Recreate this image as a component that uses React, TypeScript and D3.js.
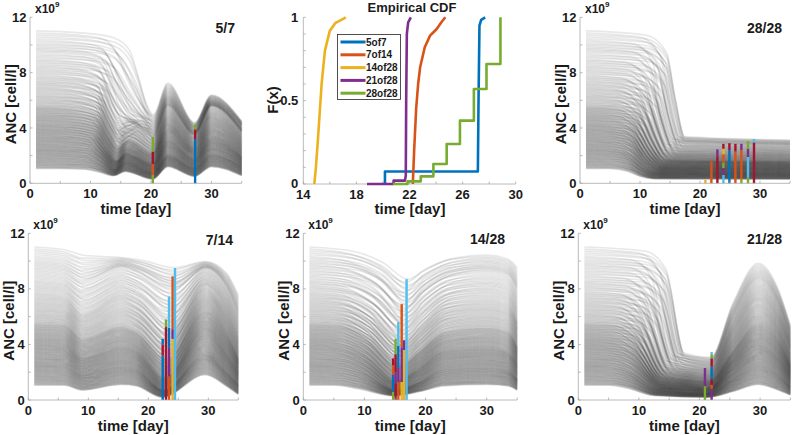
import React from 'react';
import * as d3 from 'd3';

type Pt = [number, number];
type Seg = [number, number, string];
interface Bar { day: number; segs: Seg[] }

const BLUE = '#0072BD', ORANGE = '#D95319', YELLOW = '#EDB120', PURPLE = '#7E2F8E', GREEN = '#77AC30', CYAN = '#4DBEEE', RED = '#A2142F';
const FONT = '"Liberation Sans", Arial, Helvetica, sans-serif';
const AXIS = '#a8a8a8';

// ---------- trajectory band data (representative trajectories, top -> bottom) ----------
// relative density of simulated trajectories at each representative's start level
const startDensity = [0.5, 1.0, 1.6, 2.4, 3.1, 3.2, 2.8];
const trajectoryCount = 240;
// per-trajectory timing offsets (representative-index units)
const timingOffsets = [0, 0.85, -0.7, 0.4, -1.1, 1.25, -0.3, 0.7, -0.85, 0.25, -0.55, 1.0, -1.25, 0.15];

const curves5of7: Pt[][] = [
  [[1, 11.1], [10, 10.9], [14, 10.6], [16.5, 9.8], [18, 7.8], [19.2, 5.9], [20.4, 5.0], [22.8, 7.3], [27.2, 4.4], [30, 6.4], [35, 4.5]],
  [[1, 9.5], [9, 9.35], [12.5, 8.9], [14.3, 7.4], [16, 6.3], [18.3, 5.0], [20.4, 4.2], [22.8, 6.4], [27.2, 4.0], [30, 6.0], [35, 4.2]],
  [[1, 7.5], [8, 7.35], [11.5, 6.8], [13.2, 5.0], [14.6, 4.0], [16.2, 4.4], [20.4, 3.3], [22.8, 5.6], [27.2, 3.5], [30, 5.6], [35, 3.7]],
  [[1, 5.5], [7, 5.4], [11, 5.0], [12.8, 3.6], [14.5, 2.6], [16, 3.1], [20.3, 2.2], [22.8, 4.3], [27.2, 2.6], [30, 4.4], [35, 2.8]],
  [[1, 4.0], [6, 3.92], [10.5, 3.6], [12.5, 2.5], [14.3, 1.6], [15.9, 2.2], [20.3, 1.4], [22.8, 3.1], [27.2, 1.8], [30, 3.2], [35, 1.9]],
  [[1, 2.5], [6, 2.45], [10, 2.3], [12, 1.7], [14, 1.0], [15.8, 1.5], [20.3, 0.8], [22.8, 2.0], [27.2, 1.1], [30, 2.1], [35, 1.2]],
  [[1, 1.05], [5, 1.05], [9, 1.0], [11.5, 0.8], [13.8, 0.55], [15.7, 0.85], [20.3, 0.3], [22.8, 1.2], [27.2, 0.5], [30, 1.2], [35, 0.55]],
];

const curves28of28: Pt[][] = [
  [[1, 11.1], [11, 10.8], [14.5, 9.5], [15.8, 6.5], [17.5, 3.4], [35, 3.15]],
  [[1, 9.5], [10, 9.3], [13.3, 8.2], [14.6, 5.5], [16.5, 3.0], [35, 2.8]],
  [[1, 7.5], [8.5, 7.3], [11.5, 6.3], [13, 4.2], [15, 2.3], [35, 2.2]],
  [[1, 5.5], [7, 5.4], [10, 4.6], [11.8, 3.0], [14, 1.7], [35, 1.6]],
  [[1, 4.0], [6, 3.9], [9, 3.3], [11, 2.0], [13.5, 1.2], [35, 1.15]],
  [[1, 2.5], [5.5, 2.45], [8.5, 2.0], [10.5, 1.2], [13, 0.75], [35, 0.7]],
  [[1, 1.05], [5, 1.05], [8, 0.85], [10, 0.5], [12.5, 0.32], [35, 0.3]],
];

const curves7of14: Pt[][] = [
  [[1, 11.1], [6, 10.9], [9.5, 10.5], [15.5, 10.3], [19, 10.1], [24.4, 9.6], [29.5, 10.0], [33, 9.2], [35, 7.6]],
  [[1, 9.5], [6, 9.3], [9, 8.6], [15.5, 9.6], [18.5, 9.2], [24, 8.0], [29.5, 9.5], [33, 8.2], [35, 6.2]],
  [[1, 7.5], [6, 7.3], [9, 6.2], [15.5, 7.5], [18, 7.0], [23.4, 5.0], [29.5, 8.2], [33, 6.5], [35, 4.5]],
  [[1, 5.5], [6, 5.4], [9, 4.4], [15.5, 5.3], [18, 4.9], [23, 3.0], [29.5, 6.6], [33, 4.8], [35, 3.0]],
  [[1, 4.0], [6, 3.9], [9, 3.0], [15.5, 3.8], [18, 3.5], [22.8, 1.6], [29.5, 5.0], [33, 3.3], [35, 2.0]],
  [[1, 2.5], [6, 2.45], [9, 1.8], [15.5, 2.4], [18, 2.2], [22.5, 0.7], [29.5, 3.3], [33, 2.0], [35, 1.1]],
  [[1, 1.05], [6, 1.05], [9, 0.7], [15.5, 1.1], [18, 1.0], [22.3, 0.2], [29.5, 1.8], [33, 1.0], [35, 0.4]],
];

const curves14of28: Pt[][] = [
  [[1, 11.1], [8, 10.8], [13, 10.0], [17.2, 8.8], [20, 9.5], [25, 10.3], [30, 10.5], [33.5, 10.2], [35, 9.6]],
  [[1, 9.5], [7, 9.3], [12, 8.4], [16.8, 6.6], [19.5, 7.8], [24, 9.0], [30, 9.3], [33.5, 9.0], [35, 8.0]],
  [[1, 7.5], [6, 7.3], [11, 6.2], [16.2, 4.2], [19, 5.3], [23.5, 6.9], [30, 7.2], [33.5, 6.9], [35, 5.6]],
  [[1, 5.5], [6, 5.4], [10.5, 4.5], [15.7, 2.5], [19, 3.5], [23, 4.9], [30, 5.2], [33.5, 4.9], [35, 3.8]],
  [[1, 4.0], [6, 3.9], [10, 3.2], [15.3, 1.4], [19, 2.3], [23, 3.5], [30, 3.7], [33.5, 3.4], [35, 2.6]],
  [[1, 2.5], [5.5, 2.45], [9.5, 2.0], [15, 0.7], [19, 1.3], [23, 2.2], [30, 2.35], [33.5, 2.1], [35, 1.5]],
  [[1, 1.05], [5, 1.05], [9, 0.8], [14.8, 0.3], [19, 0.6], [23, 1.0], [30, 1.1], [33.5, 1.0], [35, 0.7]],
];

const curves21of28: Pt[][] = [
  [[1, 11.1], [11, 10.8], [14.5, 9.5], [17.5, 3.4], [21.9, 3.1], [25.5, 7.0], [29.7, 9.9], [33, 8.0], [35, 5.4]],
  [[1, 9.5], [10, 9.3], [13.3, 8.2], [16.5, 3.0], [21.8, 2.6], [25.5, 6.0], [29.7, 8.7], [33, 7.0], [35, 4.6]],
  [[1, 7.5], [8.5, 7.3], [11.5, 6.3], [15, 2.3], [21.7, 2.0], [25.5, 4.8], [29.7, 7.2], [33, 5.7], [35, 3.7]],
  [[1, 5.5], [7, 5.4], [10, 4.6], [14, 1.7], [21.6, 1.4], [25.5, 3.5], [29.7, 5.5], [33, 4.3], [35, 2.6]],
  [[1, 4.0], [6, 3.9], [9, 3.3], [13.5, 1.2], [21.5, 0.9], [25.5, 2.5], [29.7, 4.0], [33, 3.0], [35, 1.8]],
  [[1, 2.5], [5.5, 2.45], [8.5, 2.0], [13, 0.75], [21.4, 0.5], [25.5, 1.5], [29.7, 2.5], [33, 1.8], [35, 1.0]],
  [[1, 1.05], [5, 1.05], [8, 0.85], [12.5, 0.32], [21.3, 0.2], [25.5, 0.6], [29.7, 1.1], [33, 0.7], [35, 0.35]],
];

// ---------- coloured bars (stacked segments: [from, to, colour]) ----------
const bars5of7: Bar[] = [
  { day: 20.3, segs: [[0, 0.6, GREEN], [0.6, 1.4, ORANGE], [1.4, 2.3, RED], [2.3, 3.35, GREEN]] },
  { day: 27.3, segs: [[0, 3.2, BLUE], [3.2, 3.9, RED], [3.9, 4.25, GREEN]] },
];
const bars28of28: Bar[] = [
  { day: 20.9, segs: [[0, 0.25, YELLOW]] },
  { day: 21.9, segs: [[0, 1.6, ORANGE]] },
  { day: 22.9, segs: [[0, 1.9, RED], [1.9, 2.45, PURPLE]] },
  { day: 23.9, segs: [[0, 0.6, CYAN], [0.6, 1.1, PURPLE], [1.1, 1.5, GREEN], [1.5, 2.1, ORANGE], [2.1, 2.5, YELLOW], [2.5, 2.85, RED]] },
  { day: 24.9, segs: [[0, 2.4, BLUE], [2.4, 2.9, RED]] },
  { day: 25.9, segs: [[0, 2.3, ORANGE], [2.3, 2.85, RED]] },
  { day: 26.9, segs: [[0, 0.3, GREEN], [0.3, 2.4, ORANGE], [2.4, 2.85, PURPLE]] },
  { day: 28.0, segs: [[0, 0.4, GREEN], [0.4, 1.9, CYAN], [1.9, 2.5, PURPLE], [2.5, 3.05, GREEN]] },
  { day: 29.0, segs: [[0, 2.95, RED], [2.95, 3.2, CYAN]] },
];
const bars7of14: Bar[] = [
  { day: 22.4, segs: [[0, 3.2, BLUE], [3.2, 4.0, RED], [4.0, 4.4, BLUE]] },
  { day: 22.95, segs: [[0, 5.25, RED], [5.25, 5.8, GREEN]] },
  { day: 23.45, segs: [[0, 1.7, ORANGE], [1.7, 3.8, PURPLE], [3.8, 5.2, BLUE], [5.2, 7.45, CYAN]] },
  { day: 24.05, segs: [[0, 4.4, YELLOW], [4.4, 5.1, PURPLE], [5.1, 8.9, ORANGE]] },
  { day: 24.45, segs: [[0, 9.5, CYAN]] },
];
const bars14of28: Bar[] = [
  { day: 14.7, segs: [[0, 0.6, GREEN], [0.6, 1.8, BLUE], [1.8, 2.5, ORANGE], [2.5, 3.0, RED]] },
  { day: 15.1, segs: [[0, 1.2, RED], [1.2, 2.0, PURPLE], [2.0, 3.3, RED], [3.3, 4.4, GREEN]] },
  { day: 15.55, segs: [[0, 1.3, ORANGE], [1.3, 2.3, PURPLE], [2.3, 3.9, BLUE], [3.9, 5.6, CYAN]] },
  { day: 16.1, segs: [[0, 1.3, YELLOW], [1.3, 3.8, PURPLE], [3.8, 6.9, ORANGE]] },
  { day: 16.5, segs: [[0, 3.6, YELLOW], [3.6, 4.3, PURPLE]] },
  { day: 16.9, segs: [[0, 8.7, CYAN]] },
];
const bars21of28: Bar[] = [
  { day: 20.9, segs: [[0, 1.0, GREEN], [1.0, 2.3, PURPLE]] },
  { day: 22.0, segs: [[0, 0.8, PURPLE], [0.8, 1.1, ORANGE], [1.1, 1.5, RED], [1.5, 2.4, BLUE], [2.4, 3.0, RED], [3.0, 3.3, GREEN], [3.3, 3.45, CYAN]] },
];

// ---------- empirical CDF data ----------
const cdf5of7: Pt[] = [[20.15, 0], [20.15, 0.075], [27.15, 0.075], [27.2, 0.5], [27.27, 0.95], [27.4, 0.985], [27.7, 1.0]];
const cdf7of14: Pt[] = [[22.25, 0], [22.35, 0.2], [22.5, 0.45], [22.65, 0.6], [22.8, 0.7], [23.15, 0.82], [23.55, 0.89], [24.05, 0.93], [24.4, 0.97], [24.7, 1.0]];
const cdf14of28: Pt[] = [[14.83, 0], [14.95, 0.1], [15.13, 0.3], [15.38, 0.6], [15.63, 0.8], [16.0, 0.92], [16.4, 0.965], [17.0, 0.99], [17.2, 1.0]];
const cdf21of28: Pt[] = [[18.8, 0], [20.8, 0], [20.8, 0.02], [21.65, 0.02], [21.72, 0.05], [21.75, 0.5], [21.8, 0.9], [21.9, 0.97], [22.1, 1.0]];
const cdf28of28: Pt[] = [[20.75, 0], [21.85, 0], [21.85, 0.016], [22.85, 0.016], [22.85, 0.046], [23.8, 0.046], [23.8, 0.12], [24.8, 0.12], [24.8, 0.24], [25.8, 0.24], [25.8, 0.38], [26.85, 0.38], [26.85, 0.57], [27.8, 0.57], [27.8, 0.72], [28.85, 0.72], [28.85, 1.0]];
const cdfNames = ['5of7', '7of14', '14of28', '21of28', '28of28'];
const cdfColors = [BLUE, ORANGE, YELLOW, PURPLE, GREEN];
const cdfSeries = [cdf5of7, cdf7of14, cdf14of28, cdf21of28, cdf28of28];

// ---------- ticks ----------
const ancTickMarks = [0, 2, 4, 6, 8, 10, 12];
const ancTickLabels = [0, 4, 8, 12];
const dayTickMarks = [0, 5, 10, 15, 20, 25, 30, 35];
const dayTickLabels = [0, 10, 20, 30];
const cdfXTickMarks = [14, 16, 18, 20, 22, 24, 26, 28, 30];
const cdfXTickLabels = [14, 18, 22, 26, 30];
const cdfYTickMarks = [0, 0.1, 0.2, 0.3, 0.4, 0.5, 0.6, 0.7, 0.8, 0.9, 1];
const cdfYTickLabels = [0, 0.5, 1];

function blend(reps: Pt[][], s: number, sT: number): Pt[] {
  const last = reps.length - 2;
  const i = Math.min(Math.floor(s), last), f = s - i;
  const j = Math.min(Math.floor(sT), last), g = sT - j;
  return reps[0].map((_, k) => [
    reps[j][k][0] * (1 - g) + reps[j + 1][k][0] * g,
    reps[i][k][1] * (1 - f) + reps[i + 1][k][1] * f,
  ] as Pt);
}

// positions (in representative-index units) distributed by the start density
function bandPositions(): number[] {
  const d = startDensity;
  const cum = [0];
  for (let i = 0; i < d.length - 1; i++) cum.push(cum[i] + (d[i] + d[i + 1]) / 2);
  const total = cum[cum.length - 1];
  const out: number[] = [];
  for (let k = 0; k < trajectoryCount; k++) {
    const target = ((k + 0.5) / trajectoryCount) * total;
    let i = 0;
    while (i < d.length - 2 && cum[i + 1] < target) i++;
    const r = target - cum[i];
    const a = (d[i + 1] - d[i]) / 2, b = d[i];
    const f = Math.abs(a) < 1e-9 ? r / b : (-b + Math.sqrt(b * b + 4 * a * r)) / (2 * a);
    out.push(i + Math.max(0, Math.min(1, f)));
  }
  return out;
}

function buildFamily(reps: Pt[][]): Pt[][] {
  const last = reps.length - 1;
  return bandPositions().map((s, n) => {
    const sT = Math.max(0, Math.min(last, s + timingOffsets[n % timingOffsets.length]));
    return blend(reps, s, sT);
  });
}

interface PanelCfg {
  x0: number; x1: number; yt: number; yb: number;
  curves: Pt[][]; bars: Bar[]; title: string; titleX: number; titleY: number;
}

const panels: PanelCfg[] = [
  { x0: 30, x1: 241.7, yt: 17.3, yb: 183.3, curves: curves5of7, bars: bars5of7, title: '5/7', titleX: 235, titleY: 33 },
  { x0: 580, x1: 790, yt: 17.3, yb: 183.3, curves: curves28of28, bars: bars28of28, title: '28/28', titleX: 782, titleY: 32.5 },
  { x0: 28.3, x1: 238.3, yt: 233.3, yb: 400, curves: curves7of14, bars: bars7of14, title: '7/14', titleX: 233, titleY: 244.5 },
  { x0: 303.3, x1: 517.2, yt: 233.3, yb: 400, curves: curves14of28, bars: bars14of28, title: '14/28', titleX: 505, titleY: 243.5 },
  { x0: 578.3, x1: 790.4, yt: 233.3, yb: 400, curves: curves21of28, bars: bars21of28, title: '21/28', titleX: 782, titleY: 243.5 },
];

function TrajPanel({ cfg }: { cfg: PanelCfg }) {
  const xs = d3.scaleLinear().domain([0, 35]).range([cfg.x0, cfg.x1]);
  const ys = d3.scaleLinear().domain([0, 12]).range([cfg.yb, cfg.yt]);
  const line = d3.line<Pt>().x(d => xs(d[0])).y(d => ys(d[1])).curve(d3.curveMonotoneX);
  const fam = buildFamily(cfg.curves);
  const bw = 2.4;
  return (
    <g>
      <g fill="none" stroke="#404040" strokeOpacity={0.12} strokeWidth={1.6}>
        {fam.map((p, i) => <path key={i} d={line(p) || ''} />)}
      </g>
      {cfg.bars.map((b, i) => (
        <g key={i}>
          {b.segs.map((s, k) => (
            <rect key={k} x={xs(b.day) - bw / 2} width={bw} y={ys(s[1])} height={ys(s[0]) - ys(s[1])} fill={s[2]} />
          ))}
        </g>
      ))}
      <line x1={cfg.x0} x2={cfg.x0} y1={cfg.yt} y2={cfg.yb} stroke={AXIS} strokeWidth={0.8} />
      <line x1={cfg.x0} x2={cfg.x1} y1={cfg.yb} y2={cfg.yb} stroke={AXIS} strokeWidth={0.8} />
      {ancTickMarks.map(t => <line key={'y' + t} x1={cfg.x0} x2={cfg.x0 + 2.5} y1={ys(t)} y2={ys(t)} stroke={AXIS} strokeWidth={0.8} />)}
      {dayTickMarks.map(t => <line key={'x' + t} x1={xs(t)} x2={xs(t)} y1={cfg.yb} y2={cfg.yb - 2.5} stroke={AXIS} strokeWidth={0.8} />)}
      <g fontFamily={FONT} fontWeight="bold" fill="#1a1a1a">
        {ancTickLabels.map(t => (
          <text key={'yl' + t} x={cfg.x0 - 3.5} y={ys(t) + 4.6} fontSize={13} textAnchor="end">{t}</text>
        ))}
        {dayTickLabels.map(t => (
          <text key={'xl' + t} x={xs(t)} y={cfg.yb + 14.5} fontSize={13} textAnchor="middle">{t}</text>
        ))}
        <text x={(cfg.x0 + cfg.x1) / 2} y={cfg.yb + 31} fontSize={15} textAnchor="middle">time [day]</text>
        <text transform={`translate(${cfg.x0 - 14.5},${(cfg.yt + cfg.yb) / 2 + 4}) rotate(-90)`} fontSize={15} textAnchor="middle">ANC [cell/l]</text>
        <text x={cfg.x0 + 5} y={cfg.yt - 4} fontSize={12}>x10<tspan dy={-6.5} fontSize={8}>9</tspan></text>
        <text x={cfg.titleX} y={cfg.titleY} fontSize={14} textAnchor="end">{cfg.title}</text>
      </g>
    </g>
  );
}

function CdfPanel() {
  const x0 = 303.3, x1 = 515.7, yt = 17.3, yb = 184;
  const xs = d3.scaleLinear().domain([14, 30]).range([x0, x1]);
  const ys = d3.scaleLinear().domain([0, 1]).range([yb, yt]);
  const line = d3.line<Pt>().x(d => xs(d[0])).y(d => ys(d[1]));
  const lx = 337.5, ly = 34.5, lw = 63, lh = 65;
  return (
    <g>
      <line x1={x0} x2={x0} y1={yt} y2={yb} stroke={AXIS} strokeWidth={0.8} />
      <line x1={x0} x2={x1} y1={yb} y2={yb} stroke={AXIS} strokeWidth={0.8} />
      {cdfYTickMarks.map(t => <line key={'y' + t} x1={x0} x2={x0 + 2.5} y1={ys(t)} y2={ys(t)} stroke={AXIS} strokeWidth={0.8} />)}
      {cdfXTickMarks.map(t => <line key={'x' + t} x1={xs(t)} x2={xs(t)} y1={yb} y2={yb - 2.5} stroke={AXIS} strokeWidth={0.8} />)}
      <g fill="none" strokeWidth={2.6} strokeLinejoin="round">
        {cdfSeries.map((s, i) => <path key={i} d={line(s) || ''} stroke={cdfColors[i]} />)}
      </g>
      <rect x={lx} y={ly} width={lw} height={lh} fill="#fff" stroke="#262626" strokeWidth={0.8} />
      {cdfNames.map((n, i) => {
        const y = ly + 7.5 + i * 12.8;
        return (
          <g key={n}>
            <line x1={lx + 3} x2={lx + 28} y1={y} y2={y} stroke={cdfColors[i]} strokeWidth={3} />
            <text x={lx + 28.5} y={y + 3.6} fontFamily={FONT} fontWeight="bold" fontSize={10} fill="#1a1a1a">{n}</text>
          </g>
        );
      })}
      <g fontFamily={FONT} fontWeight="bold" fill="#1a1a1a">
        {cdfYTickLabels.map(t => (
          <text key={'yl' + t} x={x0 - 5} y={ys(t) + 4.4} fontSize={13} textAnchor="end">{t}</text>
        ))}
        {cdfXTickLabels.map(t => (
          <text key={'xl' + t} x={xs(t)} y={yb + 14.5} fontSize={13} textAnchor="middle">{t}</text>
        ))}
        <text x={410} y={yb + 30} fontSize={15} textAnchor="middle">time [day]</text>
        <text transform={`translate(${277.5},${100}) rotate(-90)`} fontSize={15} textAnchor="middle">F(x)</text>
        <text x={412} y={11.5} fontSize={13} textAnchor="middle">Empirical CDF</text>
      </g>
    </g>
  );
}

export default function App() {
  return (
    <svg width={795} height={435} viewBox="0 0 795 435" style={{ position: 'absolute', left: 0, top: 0, background: '#fff' }}>
      <rect x={0} y={0} width={795} height={435} fill="#fff" />
      {panels.map((p, i) => <TrajPanel key={i} cfg={p} />)}
      <CdfPanel />
    </svg>
  );
}
